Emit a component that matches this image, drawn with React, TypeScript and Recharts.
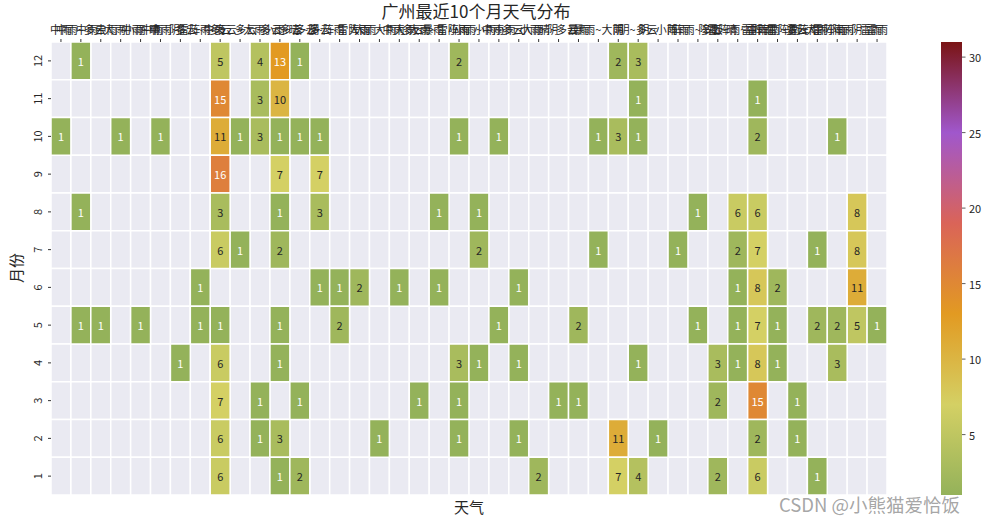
import React from 'react';
import { ScatterChart, Scatter, XAxis, YAxis } from 'recharts';

// weather categories (x axis, top)
const weathers = [
  '中雨', '中雨~多云', '中雨~大雨', '中雨~小雨', '中雨~晴', '中雨~阴', '中雨~雷阵雨',
  '多云~中雨', '多云', '多云~大雨', '多云~小雨', '多云~晴', '多云~阴', '多云~阵雨',
  '多云~雷阵雨', '大雨', '大雨~中雨', '大雨~多云', '大雨~暴雨', '大雨~雷阵雨', '小雨',
  '小雨~中雨', '小雨~多云', '小雨~大雨', '小雨~阴', '晴~多云', '暴雨', '暴雨~大雨',
  '阴', '阴~多云', '阴~小雨', '阵雨', '阵雨~多云', '阵雨~晴', '雷阵雨~中雨', '雷阵雨',
  '雷阵雨~多云', '雷阵雨~大雨', '雷阵雨~小雨', '雷阵雨~阴', '阵雨~雷雨', '雷雨',
];

const months = [12, 11, 10, 9, 8, 7, 6, 5, 4, 3, 2, 1];

// [weather index, days] for each month
const m12 = [[1, 1], [8, 5], [10, 4], [11, 13], [12, 1], [20, 2], [28, 2], [29, 3]];
const m11 = [[8, 15], [10, 3], [11, 10], [29, 1], [35, 1]];
const m10 = [[0, 1], [3, 1], [5, 1], [8, 11], [9, 1], [10, 3], [11, 1], [12, 1], [13, 1], [20, 1], [22, 1], [27, 1], [28, 3], [29, 1], [35, 2], [39, 1]];
const m9 = [[8, 16], [11, 7], [13, 7]];
const m8 = [[1, 1], [8, 3], [11, 1], [13, 3], [19, 1], [21, 1], [32, 1], [34, 6], [35, 6], [40, 8]];
const m7 = [[8, 6], [9, 1], [11, 2], [21, 2], [27, 1], [31, 1], [34, 2], [35, 7], [38, 1], [40, 8]];
const m6 = [[7, 1], [13, 1], [14, 1], [15, 2], [17, 1], [19, 1], [23, 1], [34, 1], [35, 8], [36, 2], [40, 11]];
const m5 = [[1, 1], [2, 1], [4, 1], [7, 1], [8, 1], [11, 1], [14, 2], [22, 1], [26, 2], [32, 1], [34, 1], [35, 7], [36, 1], [38, 2], [39, 2], [40, 5], [41, 1]];
const m4 = [[6, 1], [8, 6], [11, 1], [20, 3], [21, 1], [23, 1], [29, 1], [33, 3], [34, 1], [35, 8], [36, 1], [39, 3]];
const m3 = [[8, 7], [10, 1], [12, 1], [18, 1], [20, 1], [25, 1], [26, 1], [33, 2], [35, 15], [37, 1]];
const m2 = [[8, 6], [10, 1], [11, 3], [16, 1], [20, 1], [23, 1], [28, 11], [30, 1], [35, 2], [37, 1]];
const m1 = [[8, 6], [11, 1], [12, 2], [24, 2], [28, 7], [29, 4], [33, 2], [35, 6], [38, 1]];

const byMonth: Record<number, number[][]> = {
  12: m12, 11: m11, 10: m10, 9: m9, 8: m8, 7: m7, 6: m6, 5: m5, 4: m4, 3: m3, 2: m2, 1: m1,
};

const colorbarTicks = [5, 10, 15, 20, 25, 30];
const vMin = 1;
const vMax = 31;

const W = 985;
const H = 524;
const PLOT_T = 42;
const PLOT_W = 836;
const PLOT_H = 453;
const cellW = PLOT_W / weathers.length;
const cellH = PLOT_H / months.length;
const FONT = '"Noto Sans CJK SC", "Noto Sans", sans-serif';

const stops: [number, string][] = [
  [1, '#94b25a'],
  [7, '#d4d064'],
  [13, '#e29a22'],
  [19, '#da6458'],
  [25, '#a057cc'],
  [31, '#7a1414'],
];

const hex = (c: string) => [1, 3, 5].map((i) => parseInt(c.slice(i, i + 2), 16));
const colorFor = (v: number) => {
  for (let i = 0; i < stops.length - 1; i++) {
    const [a, ca] = stops[i];
    const [b, cb] = stops[i + 1];
    if (v <= b) {
      const t = Math.max(0, (v - a) / (b - a));
      const x = hex(ca);
      const y = hex(cb);
      const m = x.map((n, k) => Math.round(n + (y[k] - n) * t));
      return `rgb(${m[0]},${m[1]},${m[2]})`;
    }
  }
  return stops[stops.length - 1][1];
};

const background = months.flatMap((m) => weathers.map((_, i) => ({ x: i, y: m })));
const cells = months.flatMap((m) => byMonth[m].map(([i, v]) => ({ x: i, y: m, v })));

const BgCell = (props: any) => {
  const { cx, cy } = props;
  return (
    <rect x={cx - cellW / 2} y={cy - cellH / 2} width={cellW} height={cellH}
      fill="#eaeaf2" stroke="#fff" strokeWidth={1.5} />
  );
};

const ValueCell = (props: any) => {
  const { cx, cy, payload } = props;
  const v = payload.v;
  const light = v === 1 || v >= 12;
  return (
    <g>
      <rect x={cx - cellW / 2} y={cy - cellH / 2} width={cellW} height={cellH}
        fill={colorFor(v)} stroke="#fff" strokeWidth={1.5} />
      <text x={cx} y={cy} textAnchor="middle" dominantBaseline="central"
        fontSize={11} fontFamily={FONT} fill={light ? '#ffffff' : '#262626'}>
        {v}
      </text>
    </g>
  );
};

const MonthTick = (props: any) => {
  const { x, y, payload } = props;
  return (
    <text x={x - 4} y={y} transform={`rotate(-90, ${x - 4}, ${y})`} textAnchor="middle"
      fontSize={11} fontFamily={FONT} fill="#262626">
      {payload.value}
    </text>
  );
};

const Colorbar = () => {
  const x = 941;
  const w = 21;
  const yOf = (v: number) => PLOT_T + PLOT_H - ((v - vMin) / (vMax - vMin)) * PLOT_H;
  return (
    <g>
      <defs>
        <linearGradient id="cbar" x1="0" y1="1" x2="0" y2="0">
          {stops.map(([v, c]) => (
            <stop key={v} offset={`${((v - vMin) / (vMax - vMin)) * 100}%`} stopColor={c} />
          ))}
        </linearGradient>
      </defs>
      <rect x={x} y={PLOT_T} width={w} height={PLOT_H} fill="url(#cbar)" />
      {colorbarTicks.map((t) => (
        <g key={t}>
          <line x1={x + w} x2={x + w + 3.5} y1={yOf(t)} y2={yOf(t)} stroke="#333" strokeWidth={0.8} />
          <text x={x + w + 7} y={yOf(t)} dominantBaseline="central" fontSize={11}
            fontFamily={FONT} fill="#262626">
            {t}
          </text>
        </g>
      ))}
    </g>
  );
};

export default function App() {
  return (
    <div style={{ position: 'absolute', left: 0, top: 0, width: W, height: H, background: '#fff' }}>
      <ScatterChart width={W} height={H} margin={{ top: 12, right: 98, bottom: 29, left: 21 }}>
        <XAxis
          type="number"
          dataKey="x"
          orientation="top"
          height={30}
          domain={[-0.5, weathers.length - 0.5]}
          ticks={weathers.map((_, i) => i)}
          interval={0}
          tickFormatter={(i: number) => weathers[i]}
          axisLine={false}
          tickSize={3}
          tickMargin={5}
          tickLine={{ stroke: '#333' }}
          tick={{ fontSize: 11, fill: '#262626', fontFamily: FONT }}
          allowDataOverflow
        />
        <YAxis
          type="number"
          dataKey="y"
          width={30}
          domain={[0.5, 12.5]}
          ticks={[1, 2, 3, 4, 5, 6, 7, 8, 9, 10, 11, 12]}
          interval={0}
          axisLine={false}
          tickSize={3}
          tickLine={{ stroke: '#333' }}
          tick={<MonthTick />}
          allowDataOverflow
        />
        <Scatter data={background} shape={<BgCell />} isAnimationActive={false} />
        <Scatter data={cells} shape={<ValueCell />} isAnimationActive={false} />
      </ScatterChart>
      <svg width={W} height={H} style={{ position: 'absolute', left: 0, top: 0, pointerEvents: 'none' }}>
        <text x={476} y={18} textAnchor="middle" fontSize={17} fontFamily={FONT} fill="#262626">
          广州最近10个月天气分布
        </text>
        <text x={469} y={513} textAnchor="middle" fontSize={15} fontFamily={FONT} fill="#262626">
          天气
        </text>
        <text x={22} y={268} textAnchor="middle" transform="rotate(-90, 22, 268)" fontSize={15}
          fontFamily={FONT} fill="#262626">
          月份
        </text>
        <Colorbar />
        <text x={779} y={512} fontSize={18.5} fontFamily={FONT} fill="#9b9b9b" fillOpacity={0.9}>
          CSDN @小熊猫爱恰饭
        </text>
      </svg>
    </div>
  );
}
